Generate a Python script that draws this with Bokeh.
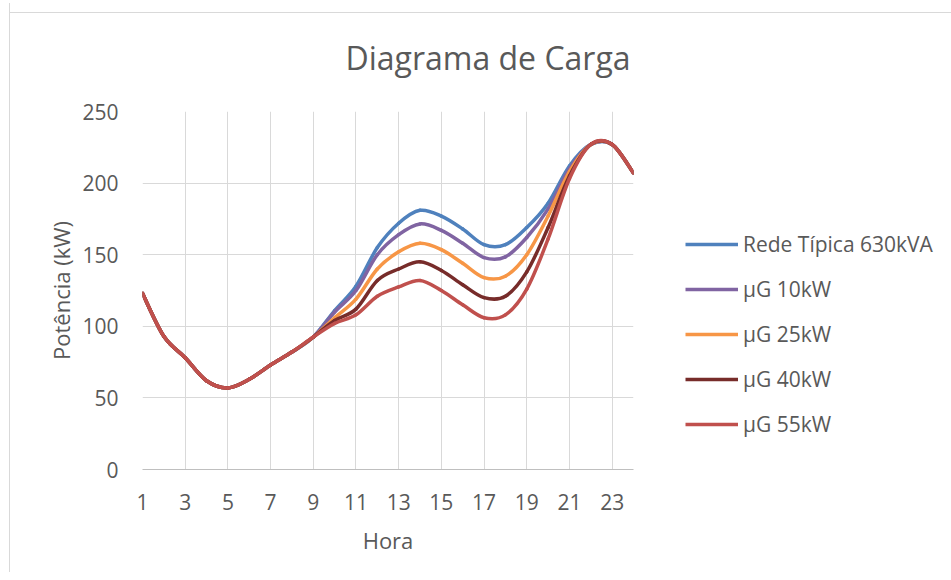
from bokeh.plotting import figure
from bokeh.models import (Range1d, FixedTicker, Legend, LegendItem, Title,
                          ColumnDataSource)
from bokeh.embed import file_html
from bokeh.resources import INLINE

# ---------------- data ----------------
hours = list(range(1, 25))
rede_630kva = [123, 93, 78, 62, 57, 63, 73, 82, 92.5, 111, 128, 155, 172, 181,
               177, 168, 157, 157, 169, 186, 212, 227, 227, 207]
ug_10kw = [123, 93, 78, 62, 57, 63, 73, 82, 92.5, 110, 125, 150, 164, 171.5,
           167, 158, 148, 148.5, 162, 182, 210, 227, 227, 207]
ug_25kw = [123, 93, 78, 62, 57, 63, 73, 82, 92.5, 106, 119, 140, 152, 158,
           153.5, 144, 134, 135, 150, 177, 208, 227, 227, 207]
ug_40kw = [123, 93, 78, 62, 57, 63, 73, 82, 92.5, 104, 112, 132, 140, 145,
           139, 129, 120, 121, 138, 169, 205, 227, 227, 207]
ug_55kw = [123, 93, 78, 62, 57, 63, 73, 82, 92.5, 102, 108, 121, 127.5, 132,
           125, 115, 106, 108, 126, 161, 203, 227, 227, 207]

series_names = ["Rede Típica 630kVA", "µG 10kW", "µG 25kW", "µG 40kW", "µG 55kW"]
series_values = [rede_630kva, ug_10kw, ug_25kw, ug_40kw, ug_55kw]
series_colors = ["#4F81BD", "#8064A2", "#F79646", "#772C2A", "#C0504D"]

x_ticks = list(range(1, 24, 2))
y_ticks = [0, 50, 100, 150, 200, 250]

FONT = "Open Sans"
TXT = "#595959"
GRID = "#d9d9d9"


def smooth_segments(xs, ys):
    """Bezier control points (Excel-style smoothed line) from the data."""
    n = len(xs)
    d = dict(x0=[], y0=[], x1=[], y1=[], cx0=[], cy0=[], cx1=[], cy1=[])
    for i in range(n - 1):
        a = i - 1 if i > 0 else i
        b = i + 2 if i + 2 < n else i + 1
        d["x0"].append(xs[i]); d["y0"].append(ys[i])
        d["x1"].append(xs[i + 1]); d["y1"].append(ys[i + 1])
        d["cx0"].append(xs[i] + (xs[i + 1] - xs[a]) / 6.0)
        d["cy0"].append(ys[i] + (ys[i + 1] - ys[a]) / 6.0)
        d["cx1"].append(xs[i + 1] - (xs[b] - xs[i]) / 6.0)
        d["cy1"].append(ys[i + 1] - (ys[b] - ys[i]) / 6.0)
    return d


p = figure(output_backend="svg", toolbar_location=None,
           frame_width=491, frame_height=358,
           min_border_left=132, min_border_right=310,
           min_border_top=108, min_border_bottom=103,
           x_range=Range1d(1, 24), y_range=Range1d(0, 250),
           margin=(3, 0, 0, 9),
           styles={"border-left": "1px solid #d9d9d9",
                   "background": "linear-gradient(#d9d9d9, #d9d9d9) 0 9px / 100% 1px no-repeat, white"})
p.outline_line_color = None
p.background_fill_color = "white"
p.border_fill_alpha = 0

p.title = Title(text="Diagrama de Carga", align="left", offset=203,
                vertical_align="top",
                text_font=FONT, text_font_size="32px", text_color=TXT,
                text_font_style="normal", standoff=62)

# axes
p.xaxis.ticker = FixedTicker(ticks=x_ticks)
p.yaxis.ticker = FixedTicker(ticks=y_ticks)
for ax in (p.xaxis[0], p.yaxis[0]):
    ax.major_tick_line_color = None
    ax.minor_tick_line_color = None
    ax.major_label_text_font = FONT
    ax.major_label_text_font_size = "21px"
    ax.major_label_text_color = TXT
    ax.axis_label_text_font = FONT
    ax.axis_label_text_font_size = "22px"
    ax.axis_label_text_color = TXT
    ax.axis_label_text_font_style = "normal"
p.xaxis.axis_label = "Hora"
p.yaxis.axis_label = "Potência (kW)"
p.xaxis.axis_line_color = "#bfbfbf"
p.xaxis.axis_line_width = 1
p.yaxis.axis_line_color = None
p.xaxis.major_label_standoff = 18
p.xaxis.axis_label_standoff = 12
p.yaxis.major_label_standoff = 18
p.yaxis.axis_label_standoff = 3

p.xgrid.ticker = FixedTicker(ticks=x_ticks)
p.ygrid.ticker = FixedTicker(ticks=y_ticks)
p.xgrid.grid_line_color = GRID
p.ygrid.grid_line_color = GRID
p.xgrid.grid_line_width = 1
p.ygrid.grid_line_width = 1

items = []
for name, vals, col in zip(series_names, series_values, series_colors):
    src = ColumnDataSource(smooth_segments(hours, vals))
    p.bezier(x0="x0", y0="y0", x1="x1", y1="y1", cx0="cx0", cy0="cy0",
             cx1="cx1", cy1="cy1", source=src, line_color=col, line_width=3.5,
             line_cap="round")
    # single-point line: invisible on the plot, provides the legend swatch
    leg_r = p.line(x=[hours[0]], y=[vals[0]], line_color=col, line_width=3.5)
    items.append(LegendItem(label=name, renderers=[leg_r]))

legend = Legend(items=items, location=(52, 31),
                label_text_font=FONT, label_text_font_size="21px",
                label_text_color=TXT, glyph_width=53, glyph_height=28,
                label_height=28, label_standoff=5, spacing=17,
                padding=0, margin=0, border_line_color=None,
                background_fill_alpha=0)
p.add_layout(legend, "right")

open("out.html", "w").write(file_html(p, INLINE))
